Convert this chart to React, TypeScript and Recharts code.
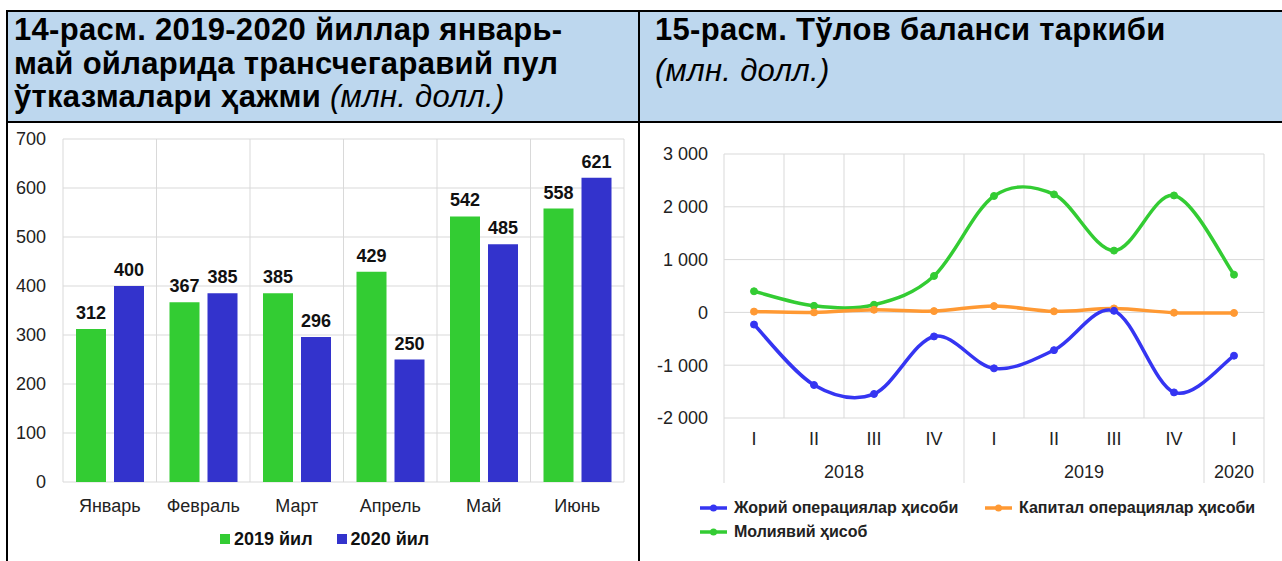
import React from "react";
import { BarChart, Bar, LineChart, Line, XAxis, YAxis, CartesianGrid, LabelList } from "recharts";

const months = ["Январь", "Февраль", "Март", "Апрель", "Май", "Июнь"];
const remit2019 = [312, 367, 385, 429, 542, 558];
const remit2020 = [400, 385, 296, 250, 485, 621];
const barNames = ["2019 йил", "2020 йил"];
const barColors = ["#33cc33", "#3333cc"];
const barTicks = [0, 100, 200, 300, 400, 500, 600, 700];

const quarters = ["I", "II", "III", "IV", "I", "II", "III", "IV", "I"];
const quarterYears = ["2018", "2018", "2018", "2018", "2019", "2019", "2019", "2019", "2020"];
const currentAccount = [-230, -1375, -1545, -455, -1060, -715, 30, -1515, -820];
const capitalAccount = [15, 0, 50, 25, 120, 20, 75, -5, -10];
const financialAccount = [400, 125, 145, 690, 2205, 2235, 1170, 2215, 715];
const lineNames = ["Жорий операциялар ҳисоби", "Капитал операциялар ҳисоби", "Молиявий ҳисоб"];
const lineColors = ["#3535f2", "#ff9933", "#33cc33"];
const balanceTicks = [-2000, -1000, 0, 1000, 2000, 3000];

const barData = months.map((m, i) => ({ month: m, y2019: remit2019[i], y2020: remit2020[i] }));
const lineData = quarters.map((q, i) => ({
  key: quarterYears[i] + "-" + q,
  current: currentAccount[i],
  capital: capitalAccount[i],
  financial: financialAccount[i],
}));

const FONT = "'Liberation Sans', Arial, sans-serif";
const TXT = "#222";

// right chart geometry
const R_W = 642;
const R_H = 438;
const R_YAXIS = 84;
const R_RIGHT = 18;
const BAND = (R_W - R_YAXIS - R_RIGHT) / quarters.length;

// excel-like smoothed line (catmull-rom style bezier)
const smoothCurve = (ctx: any) => {
  let pts: number[][] = [];
  return {
    areaStart() {},
    areaEnd() {},
    lineStart() {
      pts = [];
    },
    point(x: number, y: number) {
      pts.push([+x, +y]);
    },
    lineEnd() {
      if (!pts.length) return;
      ctx.moveTo(pts[0][0], pts[0][1]);
      for (let i = 0; i < pts.length - 1; i++) {
        const p0 = pts[i - 1] || pts[i];
        const p1 = pts[i];
        const p2 = pts[i + 1];
        const p3 = pts[i + 2] || p2;
        ctx.bezierCurveTo(
          p1[0] + (p2[0] - p0[0]) / 6,
          p1[1] + (p2[1] - p0[1]) / 6,
          p2[0] - (p3[0] - p1[0]) / 6,
          p2[1] - (p3[1] - p1[1]) / 6,
          p2[0],
          p2[1]
        );
      }
    },
  };
};

const fmtThousands = (v: number) => {
  const a = Math.abs(v);
  const s = a >= 1000 ? Math.floor(a / 1000) + " " + String(a % 1000).padStart(3, "0") : String(a);
  return (v < 0 ? "-" : "") + s;
};

const boundaryLines = (n: number) => (args: any) => {
  const o = args.offset;
  return Array.from({ length: n + 1 }, (_, i) => o.left + (o.width * i) / n);
};

const QuarterTick = (props: any) => {
  const { x, y } = props;
  const i = props.payload?.index ?? props.index;
  const yr = quarterYears[i];
  const first = quarterYears.indexOf(yr);
  const last = quarterYears.lastIndexOf(yr);
  return (
    <g>
      <text x={x} y={y + 27} textAnchor="middle" fontSize={18} fill={TXT} fontFamily={FONT}>
        {quarters[i]}
      </text>
      {i === first && (
        <line x1={x - BAND / 2} x2={x - BAND / 2} y1={y} y2={y + 65} stroke="#d9d9d9" />
      )}
      {i === quarterYears.length - 1 && (
        <line x1={x + BAND / 2} x2={x + BAND / 2} y1={y} y2={y + 65} stroke="#d9d9d9" />
      )}
      {i === first && (
        <text x={x + ((last - first) * BAND) / 2} y={y + 60} textAnchor="middle" fontSize={18} fill={TXT} fontFamily={FONT}>
          {yr}
        </text>
      )}
    </g>
  );
};

const box = (s: React.CSSProperties): React.CSSProperties => ({ position: "absolute", ...s });

const headText: React.CSSProperties = {
  fontSize: 31,
  lineHeight: "33.5px",
  letterSpacing: 0.3,
  color: "#000",
  whiteSpace: "nowrap",
};

export default function App() {
  return (
    <div style={{ position: "relative", width: 1282, height: 561, background: "#fff", overflow: "hidden", fontFamily: FONT }}>
      <style>{"body{margin:0}"}</style>
      {/* header band */}
      <div style={box({ left: 8, top: 12, width: 1274, height: 109, background: "#bdd7ee" })} />
      <div style={box({ left: 6, top: 10, width: 1276, height: 2, background: "#000" })} />
      <div style={box({ left: 6, top: 121, width: 1276, height: 2, background: "#000" })} />
      <div style={box({ left: 6, top: 10, width: 2, height: 551, background: "#000" })} />
      <div style={box({ left: 638, top: 10, width: 2, height: 551, background: "#000" })} />

      <div style={box({ left: 14, top: 13, fontWeight: 700, ...headText })}>
        <div>14-расм. 2019-2020 йиллар январь-</div>
        <div>май ойларида трансчегаравий пул</div>
        <div>
          ўтказмалари ҳажми <span style={{ fontWeight: 400, fontStyle: "italic" }}>(млн. долл.)</span>
        </div>
      </div>
      <div style={box({ left: 655, top: 13, fontWeight: 700, ...headText })}>15-расм. Тўлов баланси таркиби</div>
      <div style={box({ left: 655, top: 54, fontStyle: "italic", ...headText })}>(млн. долл.)</div>

      {/* left chart */}
      <div style={box({ left: 8, top: 123 })}>
        <BarChart width={630} height={438} data={barData} margin={{ top: 16, right: 14, bottom: 0, left: 0 }} barSize={30} barGap={8}>
          <CartesianGrid stroke="#d9d9d9" verticalCoordinatesGenerator={boundaryLines(months.length)} />
          <XAxis
            dataKey="month"
            height={79}
            axisLine={false}
            tickLine={false}
            tickMargin={11}
            interval={0}
            tick={{ fontSize: 18, fill: TXT, fontFamily: FONT }}
          />
          <YAxis
            width={55}
            domain={[0, 700]}
            ticks={barTicks}
            axisLine={false}
            tickLine={false}
            tickMargin={11}
            tick={{ fontSize: 18, fill: TXT, fontFamily: FONT }}
          />
          <Bar dataKey="y2019" name={barNames[0]} fill={barColors[0]} isAnimationActive={false}>
            <LabelList dataKey="y2019" position="top" offset={10} style={{ fontSize: 18, fontWeight: 700, fill: "#111", fontFamily: FONT }} />
          </Bar>
          <Bar dataKey="y2020" name={barNames[1]} fill={barColors[1]} isAnimationActive={false}>
            <LabelList dataKey="y2020" position="top" offset={10} style={{ fontSize: 18, fontWeight: 700, fill: "#111", fontFamily: FONT }} />
          </Bar>
        </BarChart>
      </div>
      <div style={box({ left: 220, top: 528, display: "flex", gap: 24, fontSize: 18, fontWeight: 700, color: "#111", lineHeight: "22px" })}>
        {barNames.map((n, i) => (
          <div key={n} style={{ display: "flex", alignItems: "center", gap: 4 }}>
            <span style={{ width: 10, height: 10, background: barColors[i], display: "inline-block" }} />
            <span>{n}</span>
          </div>
        ))}
      </div>

      {/* right chart */}
      <div style={box({ left: 640, top: 123 })}>
        <LineChart width={R_W} height={R_H} data={lineData} margin={{ top: 31, right: R_RIGHT, bottom: 0, left: 0 }}>
          <CartesianGrid stroke="#d9d9d9" verticalCoordinatesGenerator={boundaryLines(quarters.length)} />
          <XAxis
            dataKey="key"
            scale="band"
            height={143}
            axisLine={false}
            tickLine={false}
            tickSize={0}
            tickMargin={0}
            interval={0}
            tick={<QuarterTick />}
          />
          <YAxis
            width={R_YAXIS}
            domain={[-2000, 3000]}
            ticks={balanceTicks}
            axisLine={false}
            tickLine={false}
            tickMargin={10}
            tickFormatter={fmtThousands}
            tick={{ fontSize: 18, fill: TXT, fontFamily: FONT }}
          />
          <Line dataKey="financial" name={lineNames[2]} stroke={lineColors[2]} strokeWidth={3.5} type={smoothCurve as any}
            dot={{ r: 3.5, fill: lineColors[2], stroke: lineColors[2], strokeWidth: 1 }} isAnimationActive={false} />
          <Line dataKey="capital" name={lineNames[1]} stroke={lineColors[1]} strokeWidth={3.5} type={smoothCurve as any}
            dot={{ r: 3.5, fill: lineColors[1], stroke: lineColors[1], strokeWidth: 1 }} isAnimationActive={false} />
          <Line dataKey="current" name={lineNames[0]} stroke={lineColors[0]} strokeWidth={3.5} type={smoothCurve as any}
            dot={{ r: 3.5, fill: lineColors[0], stroke: lineColors[0], strokeWidth: 1 }} isAnimationActive={false} />
        </LineChart>
      </div>
      <div style={box({ left: 700, top: 498, display: "grid", gridTemplateColumns: "285px auto", rowGap: 4, fontSize: 16, fontWeight: 700, color: "#222", lineHeight: "20px" })}>
        {lineNames.map((n, i) => (
          <div key={n} style={{ display: "flex", alignItems: "center", gap: 7 }}>
            <svg width={27} height={10}>
              <line x1={0} x2={27} y1={5} y2={5} stroke={lineColors[i]} strokeWidth={3.5} />
              <circle cx={13.5} cy={5} r={3.5} fill={lineColors[i]} />
            </svg>
            <span>{n}</span>
          </div>
        ))}
      </div>
    </div>
  );
}
